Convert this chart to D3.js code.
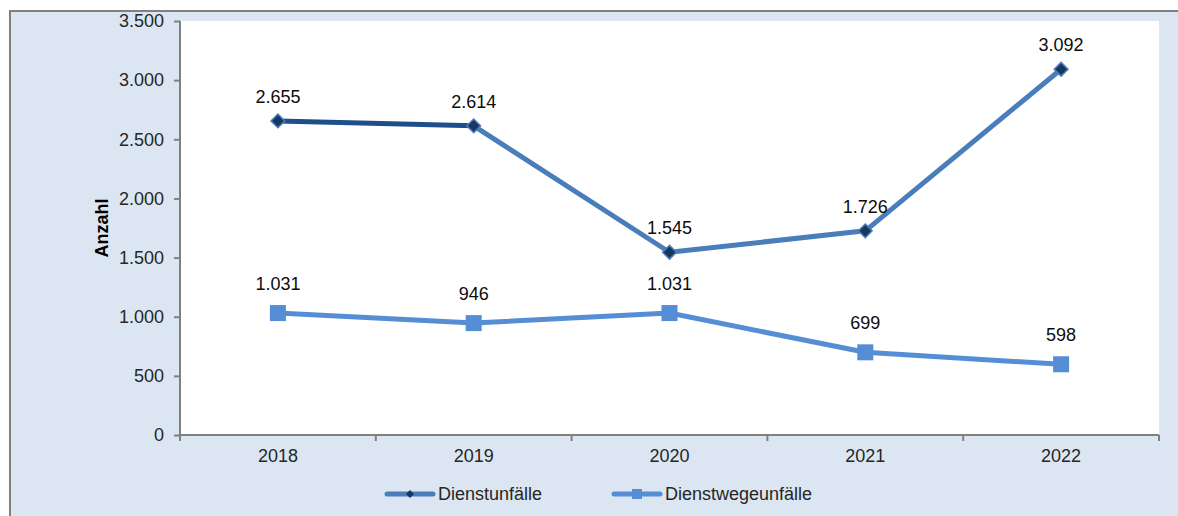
<!DOCTYPE html>
<html>
<head>
<meta charset="utf-8">
<script src="https://cdn.jsdelivr.net/npm/d3@7"></script>
<style>
  html, body { margin: 0; padding: 0; background: #ffffff; }
  svg { display: block; font-family: "Liberation Sans", Arial, sans-serif; }
</style>
</head>
<body>
<svg id="chart" width="1178" height="516"></svg>
<script>
// Jahre und Unfallzahlen
const years = ["2018", "2019", "2020", "2021", "2022"];
const dienstunfaelle = [2655, 2614, 1545, 1726, 3092];
const dienstwegeunfaelle = [1031, 946, 1031, 699, 598];
const yTicks = [0, 500, 1000, 1500, 2000, 2500, 3000, 3500];
const seriesNames = ["Dienstunfälle", "Dienstwegeunfälle"];

const fmt = v => d3.format(",")(v).replace(/,/g, ".");
const FS = 18;
const FONT = "Liberation Sans, Arial, sans-serif";

const svg = d3.select("#chart");
const W = 1178, H = 516;

// Rahmen und Hintergrund der Diagrammfläche
svg.append("rect").attr("x", 0).attr("y", 0).attr("width", W).attr("height", H).attr("fill", "#ffffff");
svg.append("rect").attr("x", 11).attr("y", 11).attr("width", W - 11).attr("height", H - 11)
  .attr("fill", "#dce6f2");
svg.append("line").attr("x1", 10).attr("x2", W).attr("y1", 11).attr("y2", 11)
  .attr("stroke", "#808080").attr("stroke-width", 2);
svg.append("line").attr("x1", 10).attr("x2", 10).attr("y1", 10).attr("y2", H)
  .attr("stroke", "#808080").attr("stroke-width", 2);

const plot = { left: 180, right: 1159, top: 21, bottom: 435 };

svg.append("rect").attr("x", plot.left).attr("y", plot.top)
  .attr("width", plot.right - plot.left).attr("height", plot.bottom - plot.top)
  .attr("fill", "#ffffff");

const x = d3.scaleBand().domain(years).range([plot.left, plot.right]);
const y = d3.scaleLinear().domain([0, 3500]).range([plot.bottom, plot.top]);
const cx = d => x(d) + x.bandwidth() / 2;

// Y-Achse
const yAxis = svg.append("g").attr("transform", `translate(${plot.left},0)`)
  .call(d3.axisLeft(y).tickValues(yTicks).tickFormat(fmt).tickSize(6).tickPadding(10));
yAxis.select(".domain").attr("stroke", "#808080").attr("stroke-width", 2).attr("d", `M0,${plot.top}V${plot.bottom}`);
yAxis.selectAll(".tick line").attr("stroke", "#808080").attr("stroke-width", 2);
yAxis.selectAll(".tick text").attr("font-size", FS).attr("fill", "#262626").attr("font-family", FONT);

// X-Achse mit Teilstrichen zwischen den Kategorien
const xAxis = svg.append("g").attr("transform", `translate(0,${plot.bottom})`)
  .call(d3.axisBottom(x).tickSize(0).tickPadding(0));
xAxis.select(".domain").attr("stroke", "#808080").attr("stroke-width", 2).attr("d", `M${plot.left},0H${plot.right}`);
xAxis.selectAll(".tick text").attr("font-size", FS).attr("fill", "#262626").attr("font-family", FONT)
  .attr("dy", null).attr("y", 27);
const bounds = years.map(d => x(d)).concat([plot.right]);
xAxis.selectAll(".sep").data(bounds).join("line").attr("class", "sep")
  .attr("x1", d => d).attr("x2", d => d).attr("y1", 0).attr("y2", 6)
  .attr("stroke", "#808080").attr("stroke-width", 2);

// Achsentitel
svg.append("text")
  .attr("transform", `translate(108,${(plot.top + plot.bottom) / 2}) rotate(-90)`)
  .attr("text-anchor", "middle").attr("font-size", FS).attr("font-weight", "bold")
  .attr("fill", "#000000").text("Anzahl");

const colDark = "#1f4e8c";
const colMid = "#4a7ebb";
const colLight = "#558ed5";
const colMarker = "#17375e";

// Dienstwegeunfälle
const pts2 = years.map((d, i) => [cx(d), y(dienstwegeunfaelle[i])]);
svg.append("path").attr("d", d3.line()(pts2)).attr("fill", "none")
  .attr("stroke", colLight).attr("stroke-width", 5).attr("stroke-linejoin", "round");
svg.selectAll(".sq").data(pts2).join("rect").attr("class", "sq")
  .attr("x", d => d[0] - 8).attr("y", d => d[1] - 8).attr("width", 16).attr("height", 16)
  .attr("fill", colLight);

// Dienstunfälle (erstes Segment dunkler)
const pts1 = years.map((d, i) => [cx(d), y(dienstunfaelle[i])]);
for (let i = 0; i < pts1.length - 1; i++) {
  svg.append("path").attr("d", d3.line()([pts1[i], pts1[i + 1]])).attr("fill", "none")
    .attr("stroke", i === 0 ? colDark : colMid).attr("stroke-width", 5).attr("stroke-linecap", "round");
}
const diamond = d3.symbol().type(d3.symbolDiamond2).size(120);
svg.selectAll(".dm").data(pts1).join("path").attr("class", "dm")
  .attr("transform", d => `translate(${d[0]},${d[1]})`).attr("d", diamond)
  .attr("fill", colMarker).attr("stroke", colMid).attr("stroke-width", 1.5);

// Datenbeschriftungen
const labelStyle = sel => sel.attr("text-anchor", "middle").attr("font-size", FS).attr("fill", "#0d0d0d");
svg.selectAll(".l1").data(dienstunfaelle).join("text").attr("class", "l1")
  .attr("x", (d, i) => cx(years[i])).attr("y", d => y(d) - 18).text(fmt).call(labelStyle);
svg.selectAll(".l2").data(dienstwegeunfaelle).join("text").attr("class", "l2")
  .attr("x", (d, i) => cx(years[i])).attr("y", d => y(d) - 23).text(fmt).call(labelStyle);

// Legende
const legend = svg.append("g").attr("transform", "translate(0,494)");
const items = [
  { x: 386, color: colMid, name: seriesNames[0], mark: "diamond" },
  { x: 613, color: colLight, name: seriesNames[1], mark: "square" }
];
items.forEach(it => {
  legend.append("line").attr("x1", it.x + 1).attr("x2", it.x + 47).attr("y1", 0).attr("y2", 0)
    .attr("stroke", it.color).attr("stroke-width", 5).attr("stroke-linecap", "round");
  if (it.mark === "diamond") {
    legend.append("path").attr("transform", `translate(${it.x + 24},0)`)
      .attr("d", d3.symbol().type(d3.symbolDiamond2).size(40)).attr("fill", colMarker);
  } else {
    legend.append("rect").attr("x", it.x + 19).attr("y", -5).attr("width", 10).attr("height", 10)
      .attr("fill", it.color);
  }
  legend.append("text").attr("x", it.x + 52).attr("y", 6).attr("font-size", FS)
    .attr("fill", "#262626").text(it.name);
});
</script>
</body>
</html>
